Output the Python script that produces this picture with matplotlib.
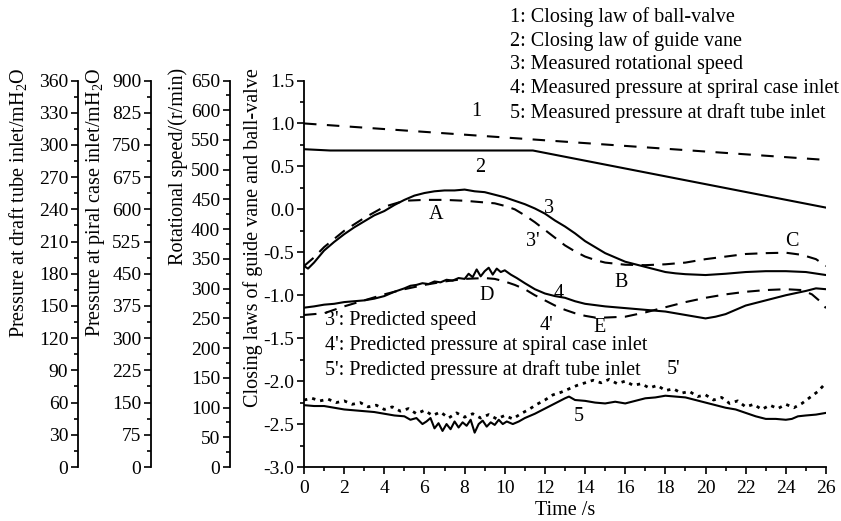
import numpy as np
import matplotlib
matplotlib.use("Agg")
import matplotlib.pyplot as plt
from matplotlib.ticker import MultipleLocator, FuncFormatter

plt.rcParams['font.family'] = ['Liberation Serif', 'DejaVu Serif']
plt.rcParams['mathtext.fontset'] = 'custom'
plt.rcParams['mathtext.rm'] = 'Liberation Serif'
plt.rcParams['mathtext.it'] = 'Liberation Serif:italic'
plt.rcParams['axes.unicode_minus'] = False

# ---------------- data ----------------
x1 = [0, 26]
y1 = [1.0, 0.575]

x2 = [0, 1.3, 11.4, 26]
y2 = [0.70, 0.685, 0.685, 0.02]

x3 = [0, 0.2, 0.5, 1, 1.5, 2, 2.5, 3, 3.5, 4,
      4.5, 5, 5.5, 6, 6.5, 7, 7.5, 8, 8.5, 9,
      9.5, 10, 10.5, 11, 11.5, 12, 12.5, 13, 13.5, 14,
      14.5, 15, 15.5, 16, 16.5, 17, 17.5, 18, 18.5, 19,
      20, 21, 22, 23, 24, 25, 26]
y3 = [-0.66, -0.69, -0.62, -0.48, -0.38, -0.29, -0.21, -0.14, -0.07, -0.02,
      0.05, 0.11, 0.16, 0.19, 0.21, 0.22, 0.22, 0.23, 0.21, 0.20,
      0.17, 0.14, 0.10, 0.06, 0.01, -0.05, -0.13, -0.20, -0.28, -0.37,
      -0.44, -0.51, -0.56, -0.61, -0.64, -0.67, -0.70, -0.73, -0.745, -0.755,
      -0.765, -0.75, -0.73, -0.72, -0.72, -0.73, -0.765]

x3p = [0, 0.5, 1, 2, 3, 4, 5, 6, 7, 8,
       9, 9.5, 10, 10.5, 11, 11.5, 12, 12.5, 13, 13.5,
       14, 14.5, 15, 16, 17, 18, 19, 20, 21, 22,
       23, 24, 24.8, 25.5, 26]
y3p = [-0.66, -0.56, -0.44, -0.25, -0.10, 0.03, 0.10, 0.11, 0.11, 0.10,
       0.08, 0.07, 0.04, 0.00, -0.07, -0.15, -0.24, -0.33, -0.42, -0.49,
       -0.55, -0.59, -0.62, -0.645, -0.65, -0.64, -0.62, -0.58, -0.55, -0.52,
       -0.51, -0.505, -0.53, -0.58, -0.66]

x4 = [0, 0.5, 1, 1.5, 2, 2.5, 3, 3.5, 4, 4.5,
      5, 5.3, 5.6, 5.9, 6.2, 6.5, 6.8, 7.1, 7.4, 7.7,
      8.0, 8.2, 8.4, 8.6, 8.8, 9.0, 9.2, 9.4, 9.6, 9.8,
      10.0, 10.3, 10.6, 11, 11.5, 12, 12.5, 13, 13.5, 14,
      15, 16, 17, 18, 19, 19.5, 20, 20.5, 21, 21.5,
      22, 23, 24, 25, 25.5, 26]
y4 = [-1.145, -1.13, -1.11, -1.10, -1.08, -1.07, -1.06, -1.04, -1.01, -0.96,
      -0.92, -0.89, -0.88, -0.86, -0.87, -0.84, -0.85, -0.82, -0.83, -0.80,
      -0.81, -0.75, -0.79, -0.70, -0.78, -0.72, -0.68, -0.76, -0.69, -0.73,
      -0.71, -0.76, -0.80, -0.86, -0.93, -0.98, -1.01, -1.03, -1.07, -1.10,
      -1.13, -1.15, -1.17, -1.19, -1.23, -1.25, -1.27, -1.25, -1.22, -1.17,
      -1.12, -1.06, -1.00, -0.95, -0.92, -0.93]

x4p = [0, 1, 2, 3, 4, 5, 6, 7, 8, 9,
       9.5, 10, 10.5, 11, 11.5, 12, 12.5, 13, 13.5, 14,
       14.5, 15, 16, 17, 18, 19, 20, 21, 22, 23,
       24, 24.8, 25.3, 25.7, 26]
y4p = [-1.23, -1.21, -1.13, -1.06, -0.99, -0.93, -0.88, -0.84, -0.81, -0.80,
       -0.81, -0.84, -0.88, -0.93, -1.00, -1.06, -1.12, -1.17, -1.21, -1.24,
       -1.26, -1.26, -1.25, -1.20, -1.14, -1.08, -1.03, -0.99, -0.96, -0.94,
       -0.93, -0.94, -0.99, -1.07, -1.15]

x5 = [0, 0.5, 1, 1.5, 2, 2.5, 3, 3.5, 4, 4.5,
      5, 5.3, 5.6, 5.9, 6.1, 6.3, 6.5, 6.7, 6.9, 7.1,
      7.3, 7.5, 7.7, 7.9, 8.1, 8.3, 8.5, 8.7, 8.9, 9.1,
      9.3, 9.5, 9.7, 9.9, 10.1, 10.4, 10.7, 11, 11.5, 12,
      12.5, 13, 13.2, 13.5, 14, 14.5, 15, 15.5, 16, 16.5,
      17, 17.5, 18, 18.5, 19, 19.5, 20, 20.5, 21, 21.5,
      22, 22.5, 23, 23.5, 24, 24.3, 24.6, 25, 25.5, 26]
y5 = [-2.28, -2.29, -2.29, -2.31, -2.33, -2.34, -2.35, -2.36, -2.38, -2.40,
      -2.41, -2.45, -2.43, -2.50, -2.47, -2.43, -2.55, -2.49, -2.58, -2.50,
      -2.56, -2.47, -2.54, -2.48, -2.52, -2.45, -2.60, -2.50, -2.46, -2.53,
      -2.48, -2.51, -2.45, -2.50, -2.47, -2.50, -2.47, -2.43, -2.38, -2.32,
      -2.26, -2.20, -2.18, -2.22, -2.23, -2.25, -2.26, -2.24, -2.26, -2.23,
      -2.20, -2.19, -2.17, -2.18, -2.19, -2.22, -2.25, -2.28, -2.31, -2.33,
      -2.37, -2.41, -2.44, -2.44, -2.45, -2.44, -2.41, -2.40, -2.39, -2.37]

x5p = [0.0, 0.4, 0.8, 1.2, 1.6, 2.0, 2.4, 2.8, 3.2, 3.6,
       4.0, 4.4, 4.8, 5.2, 5.6, 6.0, 6.4, 6.8, 7.2, 7.6,
       8.0, 8.4, 8.8, 9.2, 9.6, 10.0, 10.4, 10.8, 11.2, 11.6,
       12.0, 12.4, 12.8, 13.2, 13.6, 14.0, 14.4, 14.8, 15.2, 15.6,
       16.0, 16.4, 16.8, 17.2, 17.6, 18.0, 18.4, 18.8, 19.2, 19.6,
       20.0, 20.4, 20.8, 21.2, 21.6, 22.0, 22.4, 22.8, 23.2, 23.6,
       24.0, 24.4, 24.8, 25.2, 25.6, 26.0]
y5p = [-2.22, -2.20, -2.23, -2.21, -2.25, -2.23, -2.27, -2.25, -2.30, -2.28,
       -2.33, -2.30, -2.35, -2.32, -2.38, -2.34, -2.40, -2.36, -2.43, -2.37,
       -2.42, -2.38, -2.43, -2.39, -2.44, -2.40, -2.44, -2.38, -2.33, -2.27,
       -2.22, -2.16, -2.13, -2.09, -2.05, -2.02, -1.99, -2.02, -1.98, -2.03,
       -2.00, -2.05, -2.03, -2.08, -2.05, -2.11, -2.09, -2.14, -2.12, -2.18,
       -2.16, -2.22, -2.19, -2.26, -2.23, -2.30, -2.27, -2.33, -2.28, -2.32,
       -2.27, -2.31, -2.26, -2.19, -2.12, -2.02]

curve_labels = ["1", "2", "A", "3", "3'", "C", "B", "D", "4", "4'", "E", "5'", "5"]
curve_label_x = [8.6, 8.8, 6.6, 12.2, 11.4, 24.3, 15.8, 9.1, 12.7, 12.1, 14.7, 18.4, 13.7]
curve_label_y = [1.14, 0.49, -0.06, 0.01, -0.38, -0.38, -0.85, -1.0, -0.98, -1.35, -1.38, -1.87, -2.41]

legend_top = ["1: Closing law of ball-valve",
              "2: Closing law of guide vane",
              "3: Measured rotational speed",
              "4: Measured pressure at spriral case inlet",
              "5: Measured pressure at draft tube inlet"]
legend_bottom = ["3': Predicted speed",
                 "4': Predicted pressure at spiral case inlet",
                 "5': Predicted pressure at draft tube inlet"]

# ---------------- figure ----------------
W, H = 841, 521
fig = plt.figure(figsize=(W / 100, H / 100), dpi=100)
L, Rr, Bt, Tp = 304 / W, 826 / W, 1 - 467 / H, 1 - 80.5 / H
ax = fig.add_axes([L, Bt, Rr - L, Tp - Bt])
ax.set_xlim(0, 26)
ax.set_ylim(-3.0, 1.5)

FS = 14
FT = 14.5
lw = 1.5
k = 'black'
ax.plot(x1, y1, color=k, lw=lw, ls=(0, (6, 5)))
ax.plot(x2, y2, color=k, lw=lw)
ax.plot(x3, y3, color=k, lw=lw)
ax.plot(x3p, y3p, color=k, lw=lw, ls=(0, (6, 4)))
ax.plot(x4, y4, color=k, lw=lw)
ax.plot(x4p, y4p, color=k, lw=lw, ls=(0, (6, 4)))
ax.plot(x5, y5, color=k, lw=lw)
ax.plot(x5p, y5p, color=k, lw=2.0, ls=(0, (1.2, 1.8)))

for t, xx, yy in zip(curve_labels, curve_label_x, curve_label_y):
    ax.text(xx, yy, t, fontsize=FT, ha='center', va='center')

for sp in ['top', 'right']:
    ax.spines[sp].set_visible(False)
for sp in ['left', 'bottom']:
    ax.spines[sp].set_linewidth(1.3)

ax.xaxis.set_major_locator(MultipleLocator(2))
ax.xaxis.set_minor_locator(MultipleLocator(1))
ax.yaxis.set_major_locator(MultipleLocator(0.5))
ax.yaxis.set_minor_locator(MultipleLocator(0.25))
ax.yaxis.set_major_formatter(FuncFormatter(lambda v, p: f"{v:.1f}"))
ax.tick_params(which='major', direction='out', length=5, width=1.2, labelsize=FS, pad=2)
ax.tick_params(which='minor', direction='out', length=3, width=1.2)
ax.tick_params(axis='x', which='major', pad=4.5)
ax.set_xlabel("Time /s", fontsize=FT, labelpad=3)

extra = [
    (230, 650, 50, 25),
    (151, 900, 75, 37.5),
    (78, 360, 30, 15),
]
for xpix, top, maj, mnr in extra:
    tw = ax.twinx()
    tw.set_ylim(0, top)
    tw.spines['right'].set_visible(False)
    tw.spines['top'].set_visible(False)
    tw.spines['bottom'].set_visible(False)
    tw.spines['left'].set_visible(True)
    tw.spines['left'].set_position(('axes', (xpix - 304) / 522))
    tw.spines['left'].set_linewidth(1.3)
    tw.yaxis.set_ticks_position('left')
    tw.yaxis.set_major_locator(MultipleLocator(maj))
    tw.yaxis.set_minor_locator(MultipleLocator(mnr))
    tw.tick_params(which='major', direction='out', length=5, width=1.2, labelsize=FS, pad=2)
    tw.tick_params(which='minor', direction='out', length=3, width=1.2)

ylabels = [
    (18, "Pressure at draft tube inlet/mH$_\\mathrm{2}$O"),
    (96, "Pressure at piral case inlet/mH$_\\mathrm{2}$O"),
    (178, "Rotational speed/(r/min)"),
    (253, "Closing laws of guide vane and ball-valve"),
]
for xp, txt in ylabels:
    fig.text(xp / W, 1 - 68 / H, txt, rotation=90, ha='center', va='top', fontsize=FT)

for i, t in enumerate(legend_top):
    fig.text(510 / W, 1 - (17 + 24 * i) / H, t, ha='left', va='center', fontsize=FT)
for i, t in enumerate(legend_bottom):
    fig.text(325 / W, 1 - (321 + 24.5 * i) / H, t, ha='left', va='center', fontsize=FT)

fig.savefig("out.png", dpi=100)
